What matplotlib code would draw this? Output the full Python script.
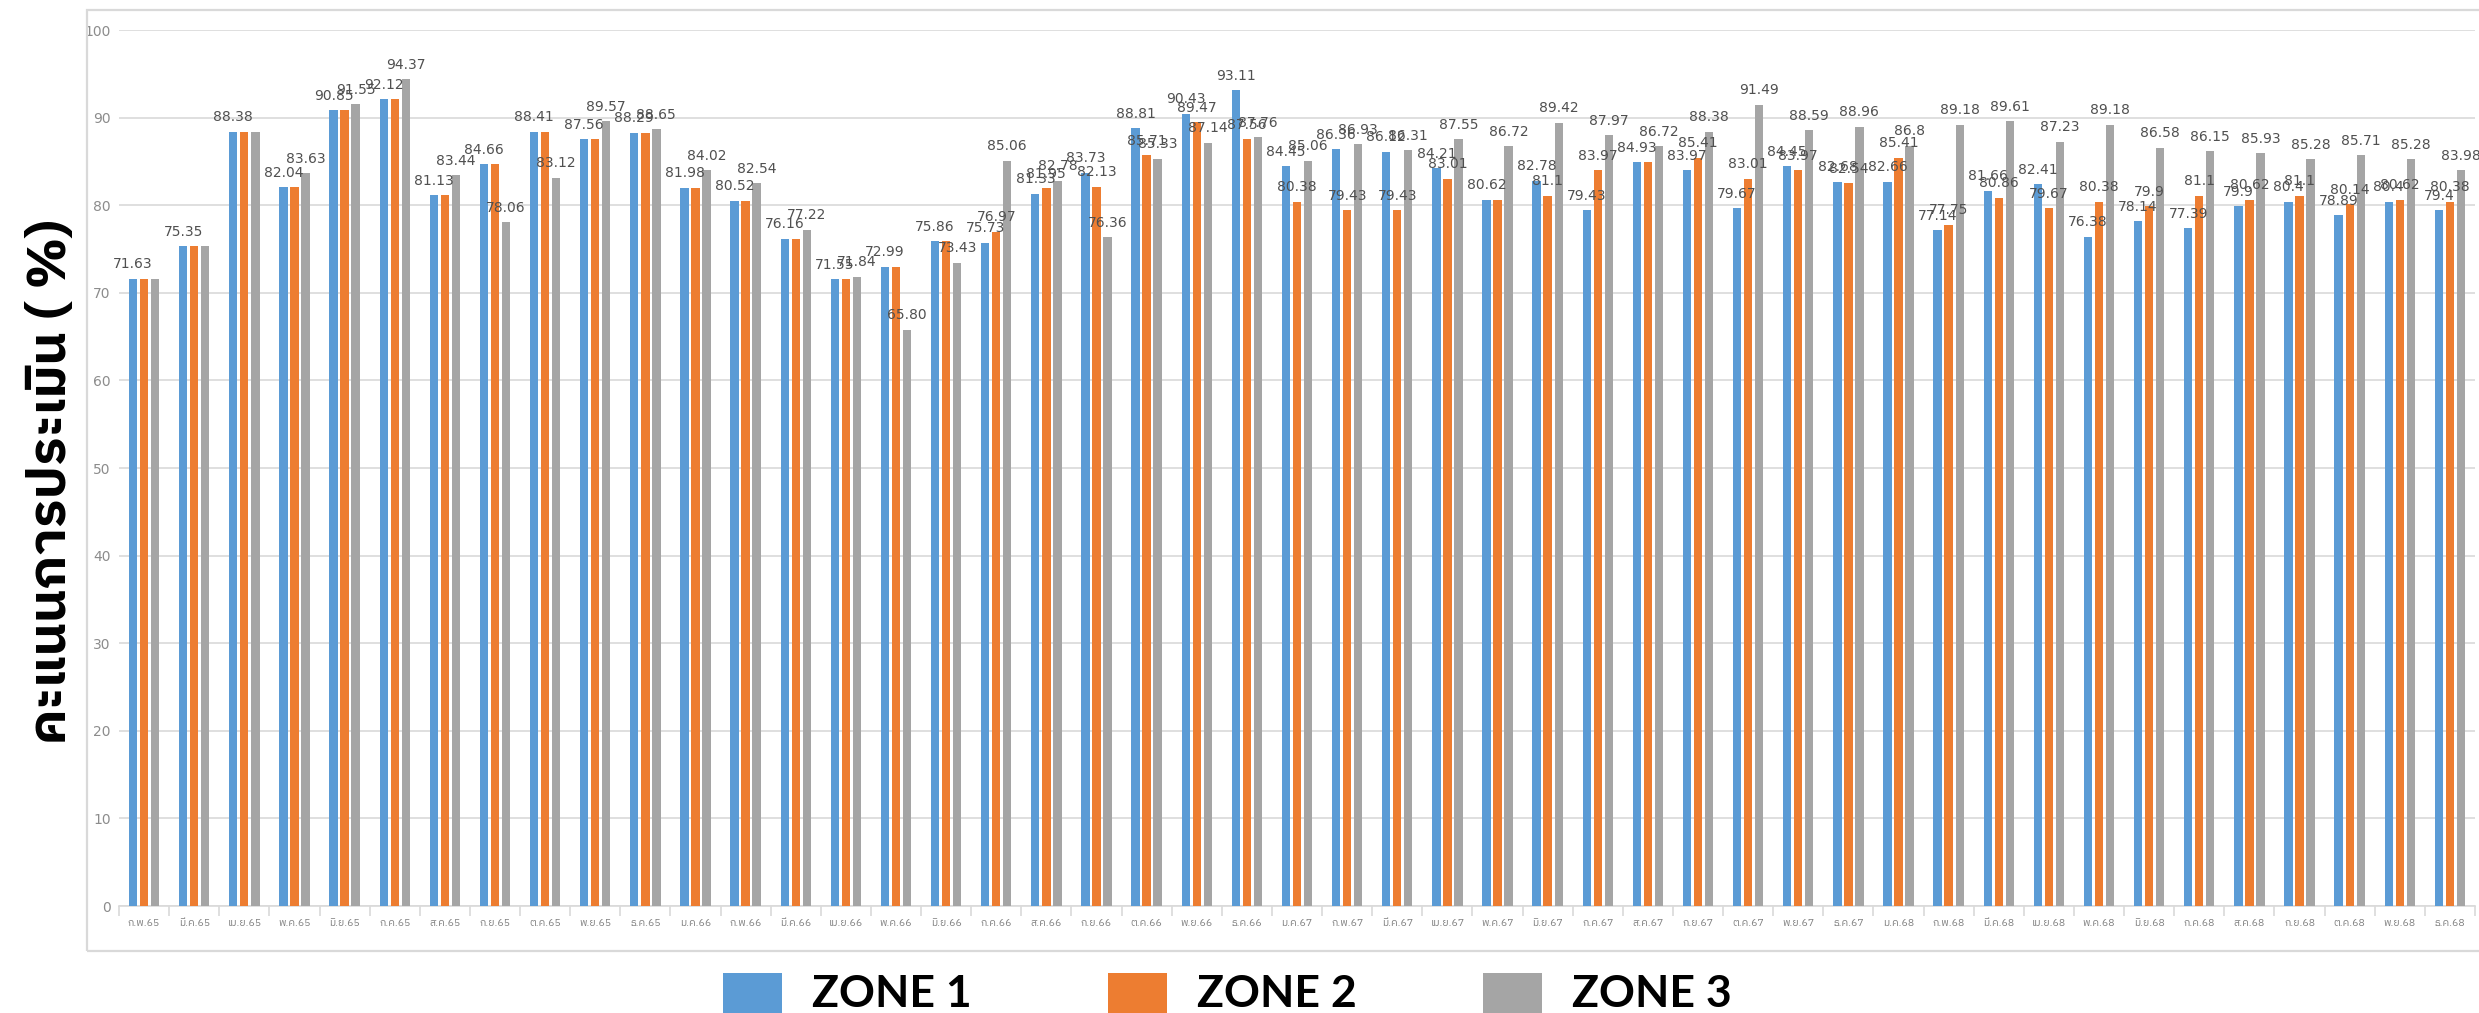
import numpy as np
import matplotlib
matplotlib.use("Agg")
import matplotlib.pyplot as plt
from matplotlib import font_manager as fm
from matplotlib.ft2font import FT2Font
from matplotlib.patches import Rectangle

# ---------------- data ----------------
categories = ["ก.พ.65", "มี.ค.65", "เม.ย.65", "พ.ค.65", "มิ.ย.65", "ก.ค.65", "ส.ค.65", "ก.ย.65",
              "ต.ค.65", "พ.ย.65", "ธ.ค.65", "ม.ค.66", "ก.พ.66", "มี.ค.66", "เม.ย.66", "พ.ค.66",
              "มิ.ย.66", "ก.ค.66", "ส.ค.66", "ก.ย.66", "ต.ค.66", "พ.ย.66", "ธ.ค.66", "ม.ค.67",
              "ก.พ.67", "มี.ค.67", "เม.ย.67", "พ.ค.67", "มิ.ย.67", "ก.ค.67", "ส.ค.67", "ก.ย.67",
              "ต.ค.67", "พ.ย.67", "ธ.ค.67", "ม.ค.68", "ก.พ.68", "มี.ค.68", "เม.ย.68", "พ.ค.68",
              "มิ.ย.68", "ก.ค.68", "ส.ค.68", "ก.ย.68", "ต.ค.68", "พ.ย.68", "ธ.ค.68"]

zone1 = [71.63, 75.35, 88.38, 82.04, 90.85, 92.12, 81.13, 84.66, 88.41, 87.56, 88.29, 81.98,
         80.52, 76.16, 71.55, 72.99, 75.86, 75.73, 81.33, 83.73, 88.81, 90.43, 93.11, 84.45,
         86.36, 86.12, 84.21, 80.62, 82.78, 79.43, 84.93, 83.97, 79.67, 84.45, 82.68, 82.66,
         77.14, 81.66, 82.41, 76.38, 78.14, 77.39, 79.9, 80.4, 78.89, 80.4, 79.4]
zone2 = [71.63, 75.35, 88.38, 82.04, 90.85, 92.12, 81.13, 84.66, 88.41, 87.56, 88.29, 81.98,
         80.52, 76.16, 71.55, 72.99, 75.86, 76.97, 81.95, 82.13, 85.71, 89.47, 87.56, 80.38,
         79.43, 79.43, 83.01, 80.62, 81.1, 83.97, 84.93, 85.41, 83.01, 83.97, 82.54, 85.41,
         77.75, 80.86, 79.67, 80.38, 79.9, 81.1, 80.62, 81.1, 80.14, 80.62, 80.38]
zone3 = [71.63, 75.35, 88.38, 83.63, 91.55, 94.37, 83.44, 78.06, 83.12, 89.57, 88.65, 84.02,
         82.54, 77.22, 71.84, 65.80, 73.43, 85.06, 82.78, 76.36, 85.33, 87.14, 87.76, 85.06,
         86.93, 86.31, 87.55, 86.72, 89.42, 87.97, 86.72, 88.38, 91.49, 88.59, 88.96, 86.8,
         89.18, 89.61, 87.23, 89.18, 86.58, 86.15, 85.93, 85.28, 85.71, 85.28, 83.98]

series_names = ["ZONE 1", "ZONE 2", "ZONE 3"]
y_ticks = [0, 10, 20, 30, 40, 50, 60, 70, 80, 90, 100]
y_title = "คะแนนการประเมิน ( %)"

# ---------------- fonts ----------------
def find_font_with(chars, prefer=()):
    found = []
    for f in fm.fontManager.ttflist:
        try:
            cmap = FT2Font(f.fname).get_charmap()
        except Exception:
            continue
        if all(ord(c) in cmap for c in chars):
            found.append(f.name)
    for p in prefer:
        for n in found:
            if p.lower() in n.lower():
                return n
    return found[0] if found else None

thai_font = find_font_with("คะแนนการประเมิน", prefer=("Thai", "Sarabun", "Loma", "Garuda", "Tlwg"))
names = {f.name for f in fm.fontManager.ttflist}
narrow = "Liberation Sans Narrow" if "Liberation Sans Narrow" in names else "DejaVu Sans"
bold_font = "Lato" if "Lato" in names else "DejaVu Sans"

thai_family = [thai_font, "DejaVu Sans"] if thai_font else ["DejaVu Sans"]
plt.rcParams["font.family"] = [narrow, "DejaVu Sans"]

# ---------------- figure ----------------
W, H = 2479, 1013
fig = plt.figure(figsize=(W / 100, H / 100), dpi=100)
fig.patch.set_facecolor("white")

# outer chart border
fig.add_artist(Rectangle((87 / W, (H - 951) / H), (2500 - 87) / W, (951 - 10) / H,
                         transform=fig.transFigure, fill=False, edgecolor="#D9D9D9", lw=1.6))

ax = fig.add_axes([119 / W, (H - 906) / H, (2475 - 119) / W, (906 - 30) / H])
n = len(categories)
x = np.arange(n)
colors = ["#5B9BD5", "#ED7D31", "#A5A5A5"]
offsets = [-0.22, 0.0, 0.22]
bw = 0.166
series = [zone1, zone2, zone3]
for s, vals in enumerate(series):
    ax.bar(x + offsets[s], vals, width=bw, color=colors[s], zorder=3, label=series_names[s])

# data labels (duplicate values within a month are labelled once)
label_override = {(15, 2): "65.80"}
for i in range(n):
    vals = [series[s][i] for s in range(3)]
    for s, v in enumerate(vals):
        if any(abs(vals[k] - v) < 1e-9 for k in range(s)):
            continue
        txt = label_override.get((i, s))
        if txt is None:
            txt = f"{v:.2f}" if abs(round(v * 10) - v * 10) > 1e-6 else f"{v:.1f}"
        ax.annotate(txt, (x[i] + offsets[s], v), xytext=(0, 7.5), textcoords="offset points",
                    ha="center", va="baseline", fontsize=10, color="#505050", zorder=4)

ax.set_xlim(-0.5, n - 0.5)
ax.set_ylim(0, 100)
ax.set_yticks(y_ticks)
ax.set_yticklabels([str(t) for t in y_ticks], fontsize=10, color="#8C8C8C")
ax.tick_params(axis="y", length=0, pad=6)
ax.yaxis.grid(True, color="#D9D9D9", lw=1.2, zorder=0)
ax.set_axisbelow(True)

ax.set_xticks(x)
ax.set_xticklabels(categories, fontsize=7.5, color="#7F7F7F", family=thai_family)
ax.set_xticks(np.arange(-0.5, n, 1.0), minor=True)
ax.tick_params(axis="x", which="major", length=0, pad=9)
ax.tick_params(axis="x", which="minor", length=7, color="#D9D9D9", width=1.2)

for sp in ["left", "right", "top"]:
    ax.spines[sp].set_visible(False)
ax.spines["bottom"].set_color("#D9D9D9")
ax.spines["bottom"].set_linewidth(1.2)

# y-axis title
fig.text(52 / W, (H - 482) / H, y_title, rotation=90, ha="center", va="center",
         fontsize=38, fontweight="bold", color="black", family=thai_family)

# legend (drawn manually, bottom clipped like the reference)
sq = 59
for s, (sx, tx) in enumerate([(723, 812), (1108, 1197), (1483, 1572)]):
    fig.add_artist(Rectangle((sx / W, (H - 973 - sq) / H), sq / W, sq / H,
                             transform=fig.transFigure, facecolor=colors[s], edgecolor="none"))
    fig.text(tx / W, 6 / H, series_names[s], ha="left", va="baseline", fontsize=32,
             fontweight="bold", color="black", family=[bold_font, "DejaVu Sans"])

fig.savefig("out.png", dpi=100, facecolor="white")
